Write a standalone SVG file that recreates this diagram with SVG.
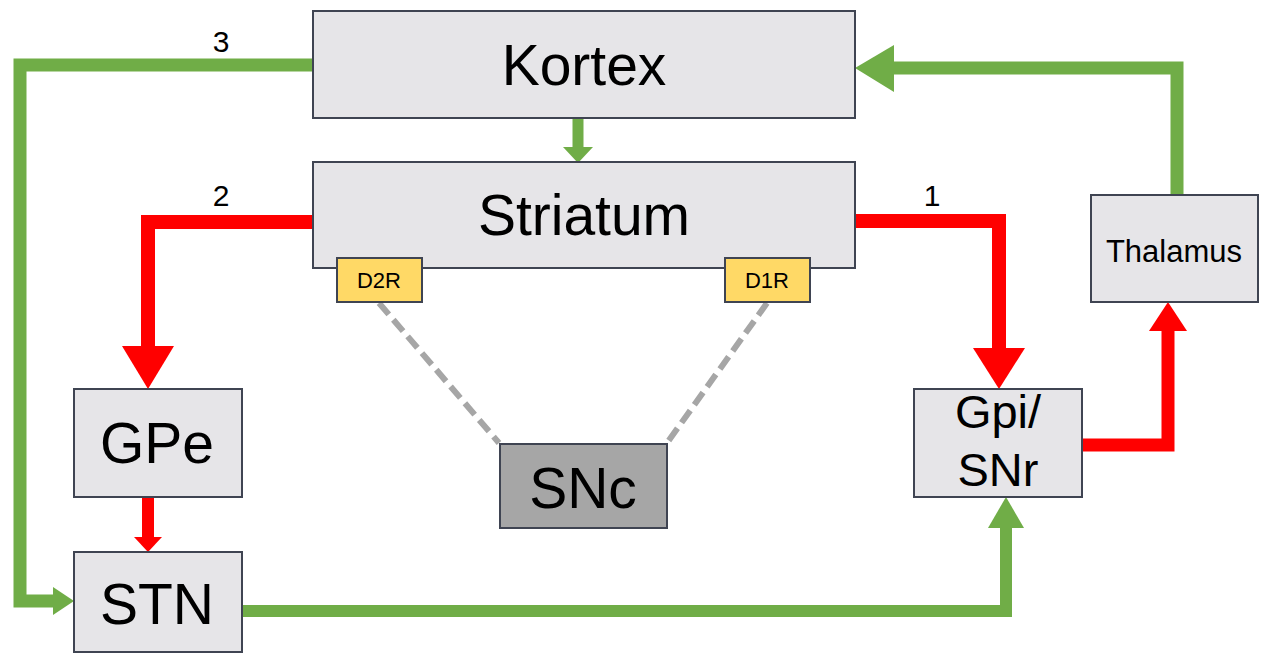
<svg xmlns="http://www.w3.org/2000/svg" width="1267" height="655" viewBox="0 0 1267 655">
  <style>
    .box { fill: #e6e5e8; stroke: #3f4452; stroke-width: 2; }
    .dark { fill: #a6a6a6; stroke: #3f4452; stroke-width: 2; }
    .rec { fill: #ffd966; stroke: #3f4452; stroke-width: 2; }
    .lbl { font-family: "Liberation Sans", Arial, sans-serif; fill: #000; text-anchor: middle; }
    .big { font-size: 57px; }
    .mid { font-size: 47px; }
    .sm { font-size: 31px; }
    .tiny { font-size: 22px; }
    .num { font-size: 30px; }
    .g { fill: none; stroke: #70ad47; stroke-width: 13; stroke-linejoin: miter; }
    .r { fill: none; stroke: #ff0000; stroke-width: 14; stroke-linejoin: miter; }
    .gh { fill: #70ad47; }
    .rh { fill: #ff0000; }
    .dash { stroke: #a6a6a6; stroke-width: 6; stroke-dasharray: 15 7; fill: none; }
  </style>

  <g id="connectors">
    <!-- 3: Kortex -> STN (green, around the left side) -->
    <polyline class="g" points="313,65 20,65 20,601 56,601"/>
    <polygon class="gh" points="74,601 53,587 53,615"/>

    <!-- Kortex -> Striatum -->
    <line class="g" x1="578" y1="118" x2="578" y2="149" style="stroke-width:11"/>
    <polygon class="gh" points="578,163 563,147 593,147"/>

    <!-- 2: Striatum -> GPe (red) -->
    <polyline class="r" points="313,222 148,222 148,348"/>
    <polygon class="rh" points="148,389 122,346 174,346"/>

    <!-- GPe -> STN -->
    <line class="r" x1="148" y1="497" x2="148" y2="540" style="stroke-width:12"/>
    <polygon class="rh" points="148,552 134,537 162,537"/>

    <!-- 1: Striatum -> Gpi/SNr (red) -->
    <polyline class="r" points="855,221 999,221 999,350"/>
    <polygon class="rh" points="999,389 973,348 1025,348"/>

    <!-- Gpi/SNr -> Thalamus -->
    <polyline class="r" points="1082,445 1168,445 1168,328" style="stroke-width:13"/>
    <polygon class="rh" points="1168,302 1149,331 1187,331"/>

    <!-- Thalamus -> Kortex (green) -->
    <polyline class="g" points="1177,194 1177,68 890,68"/>
    <polygon class="gh" points="855,68 894,45 894,92"/>

    <!-- STN -> Gpi/SNr (green) -->
    <polyline class="g" points="242,611 1006,611 1006,525" style="stroke-width:12"/>
    <polygon class="gh" points="1006,497 988,528 1024,528"/>

    <!-- dopamine receptors to SNc -->
    <line class="dash" x1="379" y1="303" x2="499" y2="443"/>
    <line class="dash" x1="767" y1="303" x2="667" y2="443"/>
  </g>

  <g id="kortex">
    <rect class="box" x="313" y="11" width="542" height="107"/>
    <text class="lbl big" x="584" y="85">Kortex</text>
  </g>

  <g id="striatum">
    <rect class="box" x="313" y="162" width="542" height="106"/>
    <text class="lbl big" x="584" y="235">Striatum</text>
  </g>

  <g id="d2r">
    <rect class="rec" x="337" y="258" width="85" height="44"/>
    <text class="lbl tiny" x="379" y="288">D2R</text>
  </g>

  <g id="d1r">
    <rect class="rec" x="725" y="258" width="85" height="44"/>
    <text class="lbl tiny" x="767" y="288">D1R</text>
  </g>

  <g id="gpe">
    <rect class="box" x="74" y="389" width="168" height="108"/>
    <text class="lbl big" x="157" y="463">GPe</text>
  </g>

  <g id="stn">
    <rect class="box" x="74" y="552" width="168" height="100"/>
    <text class="lbl big" x="157" y="624">STN</text>
  </g>

  <g id="snc">
    <rect class="dark" x="500" y="444" width="167" height="84"/>
    <text class="lbl big" x="583" y="508">SNc</text>
  </g>

  <g id="gpi-snr">
    <rect class="box" x="914" y="389" width="168" height="108"/>
    <text class="lbl mid" x="998" y="428">Gpi/</text>
    <text class="lbl mid" x="998" y="486">SNr</text>
  </g>

  <g id="thalamus">
    <rect class="box" x="1091" y="195" width="167" height="107"/>
    <text class="lbl sm" x="1174" y="262">Thalamus</text>
  </g>

  <g id="labels">
    <text class="lbl num" x="221" y="52">3</text>
    <text class="lbl num" x="221" y="206">2</text>
    <text class="lbl num" x="932" y="206">1</text>
  </g>
</svg>
